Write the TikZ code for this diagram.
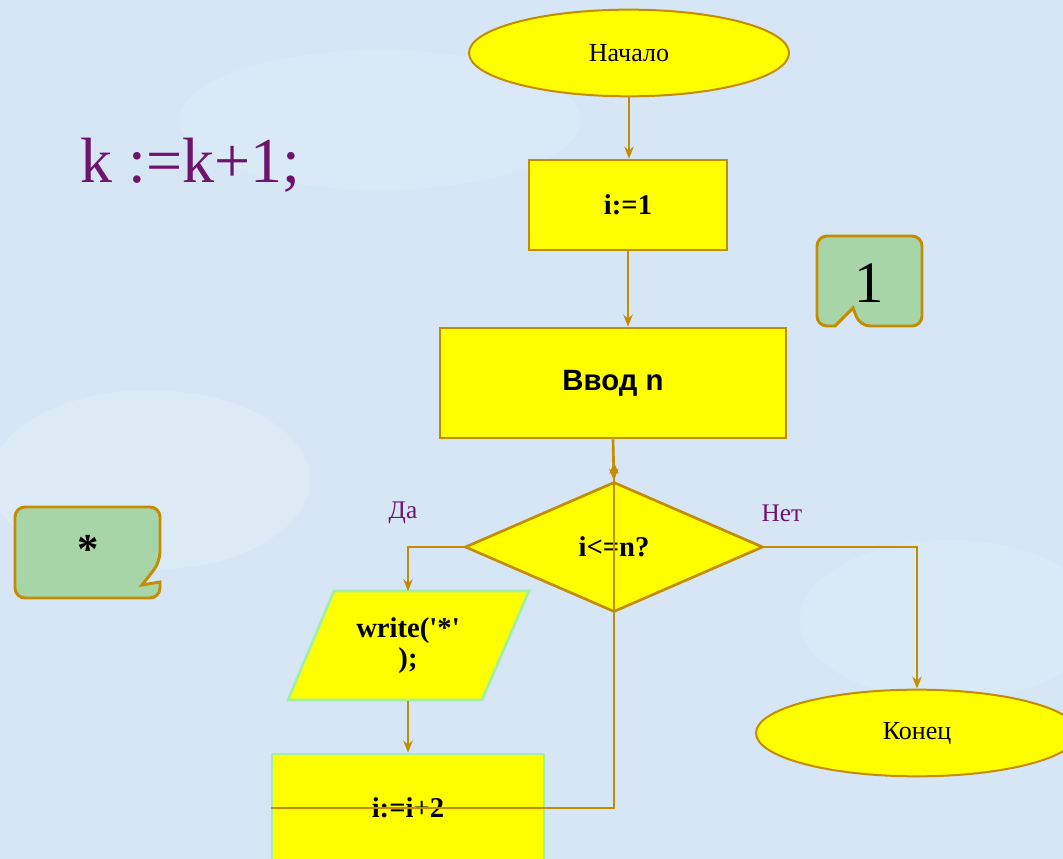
\documentclass[tikz,border=0pt]{standalone}
\usepackage{fontspec}
\setmainfont{Liberation Serif}
\newfontfamily\sansb{Liberation Sans}
\newfontfamily\qfont{Liberation Serif}[Ligatures=TeXOff]
\usetikzlibrary{shapes.geometric,arrows.meta}
\definecolor{bg}{RGB}{214,230,244}
\definecolor{bglight}{RGB}{226,238,249}
\definecolor{gold}{RGB}{196,140,0}
\definecolor{yel}{RGB}{255,255,0}
\definecolor{lgreen}{RGB}{160,240,170}
\definecolor{cgreen}{RGB}{168,213,168}
\definecolor{purp}{RGB}{110,20,110}
\newcommand\mybsf{\bfseries\fontsize{21.5}{22.5}\selectfont}
\begin{document}
\begin{tikzpicture}[x=0.75pt,y=-0.75pt,
  term/.style={ellipse,draw=gold,fill=yel,line width=1.5pt,minimum width=240pt,minimum height=65pt,inner sep=0pt,font=\fontsize{19.5}{22}\selectfont},
  proc/.style={rectangle,draw=gold,fill=yel,line width=2pt,inner sep=0pt,font=\mybsf},
  dec/.style={diamond,draw=gold,fill=yel,line width=2pt,minimum width=223.5pt,minimum height=97.5pt,inner sep=0pt,font=\mybsf},
  arr/.style={draw=gold,line width=2pt,-{Stealth[length=9pt,width=7pt]}},
  lbl/.style={text=purp,font=\fontsize{19}{22}\selectfont},
  callout/.style={draw=gold,fill=cgreen,line width=2.2pt,rounded corners=7.5pt}
]
\useasboundingbox (0,0) rectangle (1063,859);
\clip (0,0) rectangle (1063,859);
\fill[bg] (0,0) rectangle (1063,859);
\fill[bglight,opacity=0.5] (150,480) ellipse (160 and 90);
\fill[bglight,opacity=0.4] (380,120) ellipse (200 and 70);
\fill[bglight,opacity=0.4] (950,620) ellipse (150 and 80);

% nodes
\node[term] (start) at (629,53) {Начало};
\node[proc,minimum width=148.5pt,minimum height=67.5pt] (b1) at (628,205) {i:=1};
\node[proc,minimum width=259.5pt,minimum height=82.5pt,font=\sansb\bfseries\fontsize{22}{26}\selectfont] (in) at (613,383) {Ввод n};
\node[dec] (d) at (614,547) {i<=n?};
\fill[yel,draw=lgreen,line width=2pt] (334,591) -- (529,591) -- (482,700) -- (288,700) -- cycle;
\node[rectangle,minimum width=146.25pt,minimum height=81.75pt,inner sep=0pt,align=center,font=\qfont\mybsf] (w) at (408,646) {write('*'\\);};
\node[proc,draw=lgreen,minimum width=204pt,minimum height=81pt] (inc) at (408,808) {i:=i+2};
\node[term,minimum width=241.5pt] (end) at (917,733) {Конец};
\coordinate (lt) at (614,462);

% connectors
\draw[arr] (start.south) -- (start.south |- b1.north);
\draw[arr] (b1.south) -- (b1.south |- in.north);
\draw[arr] (in.south) -- (d.north);
\draw[arr] (d.west) -| (w.north);
\draw[arr] (w.south) -- (inc.north);
\draw[arr] (inc.west) -| (lt);
\draw[arr] (d.east) -| (end.north);

% labels
\node[lbl] (da) at (403,513) {Да};
\node[lbl] (net) at (782,513) {Нет};
\node[text=purp,font=\fontsize{48}{56}\selectfont,anchor=base west,inner sep=0pt] (k) at (80,183) {k :=k+1;};

% callouts
\draw[callout] (817,280) -- (817,236) -- (922,236) -- (922,326) -- (860,326) [sharp corners] -- (853,308) -- (835,326) [rounded corners=7.5pt] -- (817,326) -- cycle;
\node[font=\fontsize{44}{50}\selectfont] (one) at (869,283) {1};
\draw[callout] (88,507) -- (160,507) -- (160,562) [sharp corners] -- (142,585) -- (160,582) [rounded corners=7.5pt] -- (160,598) -- (15,598) -- (15,507) -- cycle;
\node[font=\bfseries\fontsize{32}{36}\selectfont] (star) at (88,549) {*};
\end{tikzpicture}
\end{document}
